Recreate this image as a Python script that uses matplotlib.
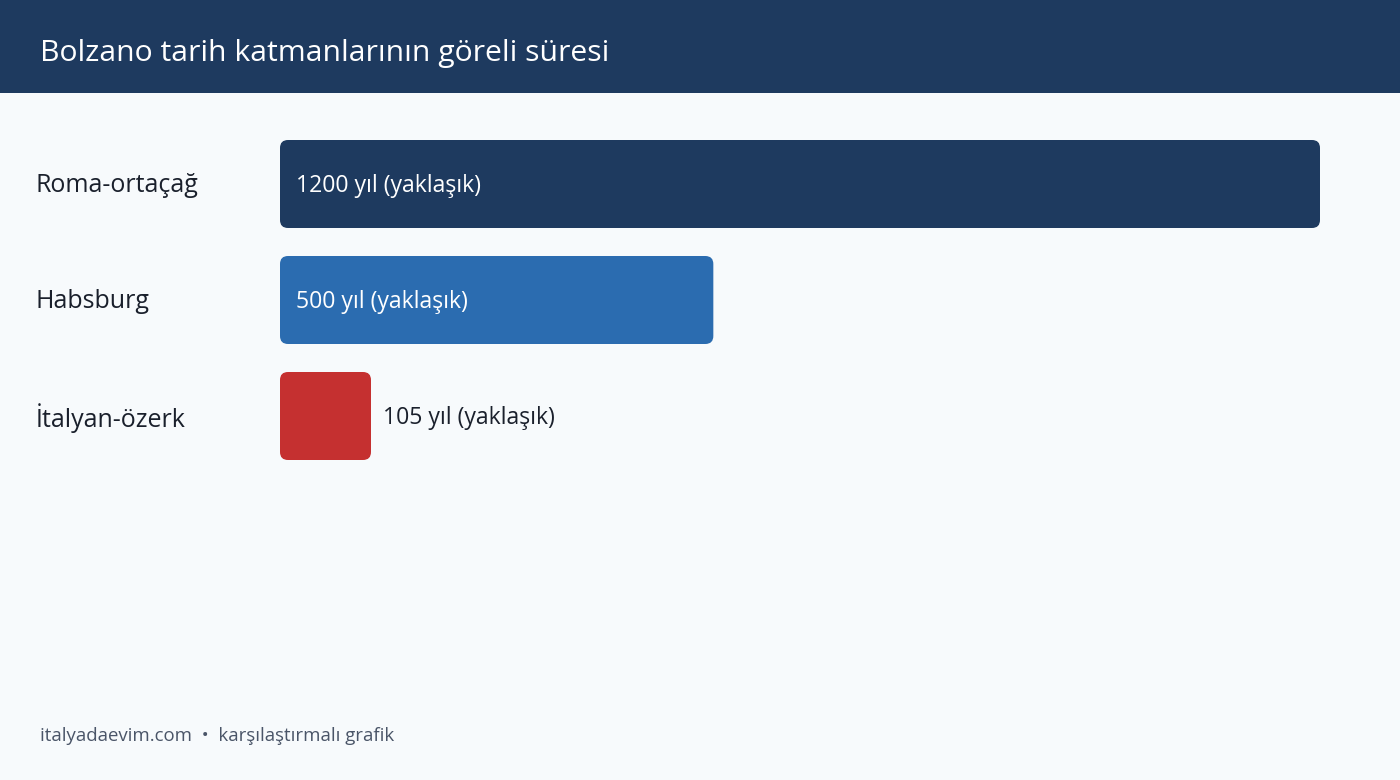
import matplotlib
matplotlib.use("Agg")
import matplotlib.pyplot as plt
from matplotlib.patches import FancyBboxPatch, Rectangle
from matplotlib.transforms import blended_transform_factory, offset_copy

# ---- data ----
categories = ["Roma-ortaçağ", "Habsburg", "İtalyan-özerk"]
years = [1200, 500, 105]
value_labels = ["1200 yıl (yaklaşık)", "500 yıl (yaklaşık)", "105 yıl (yaklaşık)"]
bar_colors = ["#1E3A5F", "#2B6CB0", "#C53030"]
title = "Bolzano tarih katmanlarının göreli süresi"
footer = "italyadaevim.com  •  karşılaştırmalı grafik"

plt.rcParams['font.family'] = ['Open Sans', 'DejaVu Sans']

W, H = 1400, 780
fig = plt.figure(figsize=(W / 100, H / 100), dpi=100)
fig.patch.set_facecolor("#F7FAFC")

# header band
fig.patches.append(Rectangle((0, 1 - 93 / H), 1, 93 / H, transform=fig.transFigure,
                             facecolor="#1E3A5F", edgecolor="none", zorder=0))
fig.text(40 / W, 1 - 53 / H, title, color="white", fontsize=21.7, va="center", ha="left")

# axes
ax_left, ax_right, ax_top, ax_bot = 280, 1320, 126, 474
ax = fig.add_axes([ax_left / W, 1 - ax_bot / H, (ax_right - ax_left) / W, (ax_bot - ax_top) / H])
ax.set_facecolor("none")
ax.set_xlim(0, 1200)
ax.set_ylim(len(categories) - 0.5, -0.5)
ax.axis("off")

bar_h = 88 / 116
bars = ax.barh(range(len(categories)), years, height=bar_h, color=bar_colors)

px_x = 1200 / (ax_right - ax_left)
px_y = 1.0 / 116
radius_px = 8
for b, c in zip(bars, bar_colors):
    x0, y0, w, h = b.get_x(), b.get_y(), b.get_width(), b.get_height()
    b.set_visible(False)
    p = FancyBboxPatch((x0, y0), w, h,
                       boxstyle=f"round,pad=0,rounding_size={radius_px * px_x}",
                       mutation_aspect=px_y / px_x,
                       facecolor=c, edgecolor="none")
    ax.add_patch(p)

trans_cat = offset_copy(blended_transform_factory(fig.transFigure, ax.transData),
                        fig=fig, x=0, y=-2, units="dots")
trans_val = offset_copy(ax.transData, fig=fig, x=0, y=-2, units="dots")
for i, (cat, v, lab) in enumerate(zip(categories, years, value_labels)):
    fig.text(36 / W, i, cat, transform=trans_cat, fontsize=18, color="#1A202C",
             va="center", ha="left")
    bar_px = v / px_x
    if bar_px > 200:
        ax.text(16 * px_x, i, lab, color="white", fontsize=16.6, va="center", ha="left",
                transform=trans_val)
    else:
        ax.text(v + 12 * px_x, i, lab, color="#1A202C", fontsize=16.6, va="center", ha="left",
                transform=trans_val)

fig.text(40 / W, 1 - 736 / H, footer, color="#4A5568", fontsize=13.4, va="center", ha="left")

fig.savefig("out.png", dpi=100, facecolor=fig.get_facecolor())
